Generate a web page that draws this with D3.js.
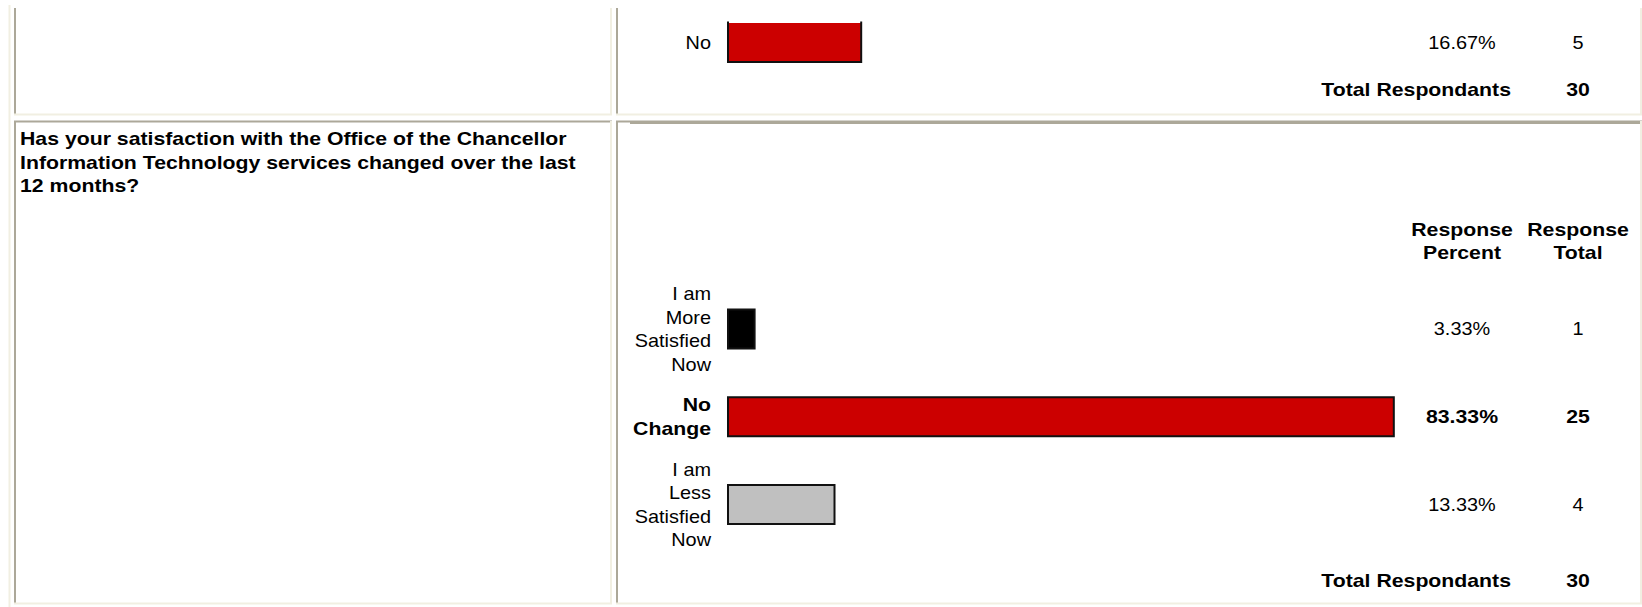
<!DOCTYPE html>
<html>
<head>
<meta charset="utf-8">
<script src="https://cdn.jsdelivr.net/npm/d3@7/dist/d3.min.js"></script>
<style>
  html, body { margin: 0; padding: 0; background: #ffffff; }
  svg { display: block; }
  text { font-family: "Liberation Sans", Arial, sans-serif; fill: #000; }
</style>
</head>
<body>
<svg id="chart" width="1642" height="607"></svg>
<script>
// ---- Data ----
const prevCategories = ["No"];
const prevPercents = [16.67];
const prevCounts = [5];
const prevTotal = 30;

const questionLines = [
  "Has your satisfaction with the Office of the Chancellor",
  "Information Technology services changed over the last",
  "12 months?"
];
const headerPercent = ["Response", "Percent"];
const headerTotal = ["Response", "Total"];

const categories = ["I am More Satisfied Now", "No Change", "I am Less Satisfied Now"];
const categoryLines = [["I am", "More", "Satisfied", "Now"], ["No", "Change"], ["I am", "Less", "Satisfied", "Now"]];
const percents = [3.33, 83.33, 13.33];
const counts = [1, 25, 4];
const total = 30;
const barColors = ["#000000", "#cc0000", "#c0c0c0"];
const prevBarColors = ["#cc0000"];
const totalLabel = "Total Respondants";

// ---- Layout ----
const svg = d3.select("#chart");
const W = 1642, H = 607;
const LIGHT = "#f1efe2", DARK = "#aca899";
const FS = 18, SX = 1.17 * 17 / 18, SXB = 1.25 * 17 / 18, LH = 23.5;

const x = d3.scaleLinear().domain([0, 100]).range([728, 1527]);
const y = d3.scalePoint().domain(categories).range([329, 504.5]);
const yPrev = d3.scalePoint().domain(prevCategories).range([42.5, 42.5]);
const BAR_H = 39;
const labelRight = 711, pctX = 1462, cntX = 1578;

// ---- Table borders ----
const borders = svg.append("g");
function line(x1, y1, x2, y2, c, w) {
  borders.append("line").attr("x1", x1).attr("y1", y1).attr("x2", x2).attr("y2", y2)
    .attr("stroke", c).attr("stroke-width", w);
}
line(9.5, 5, 9.5, H, LIGHT, 2);
line(15, 8, 15, 114, DARK, 2);
line(611, 8, 611, 114, LIGHT, 2);
line(14, 114.5, 612, 114.5, LIGHT, 2);
line(617, 8, 617, 114, DARK, 2);
line(1641, 8, 1641, 114, LIGHT, 2);
line(616, 114.5, 1642, 114.5, LIGHT, 2);
line(14, 121.5, 612, 121.5, DARK, 2);
line(15, 121, 15, 604, DARK, 2);
line(611, 121, 611, 604, LIGHT, 2);
line(14, 603.5, 612, 603.5, LIGHT, 2);
line(616, 121.5, 1642, 121.5, DARK, 2);
line(630, 123, 1642, 123, DARK, 2);
line(617, 121, 617, 604, DARK, 2);
line(1641, 121, 1641, 604, LIGHT, 2);
line(616, 603.5, 1642, 603.5, LIGHT, 2);

// ---- Text helper ----
function addText(g, tx, ty, lines, anchor, bold) {
  const t = g.append("text")
    .attr("transform", `translate(${tx},${ty}) scale(${bold ? SXB : SX},1)`)
    .attr("text-anchor", anchor)
    .attr("font-size", FS)
    .attr("font-weight", bold ? "bold" : "normal");
  const n = lines.length;
  lines.forEach((s, i) => {
    t.append("tspan").attr("x", 0)
      .attr("y", (i - (n - 1) / 2) * LH)
      .attr("dy", "0.36em")
      .text(s);
  });
  return t;
}

// ---- Row 1 (previous question, partial) ----
const g1 = svg.append("g");
g1.selectAll("rect.prev").data(prevCategories).join("rect")
  .attr("class", "prev")
  .attr("x", x(0)).attr("y", d => yPrev(d) - BAR_H / 2)
  .attr("width", (d, i) => x(prevPercents[i]) - x(0))
  .attr("height", BAR_H)
  .attr("fill", (d, i) => prevBarColors[i]);
prevCategories.forEach((d, i) => {
  const x0 = x(0), x1 = x(prevPercents[i]), y0 = yPrev(d) - BAR_H / 2 - 1.5, y1 = yPrev(d) + BAR_H / 2;
  g1.append("path").attr("d", `M${x0},${y0}V${y1}H${x1}V${y0}`)
    .attr("fill", "none").attr("stroke", "#111").attr("stroke-width", 2);
  addText(g1, labelRight, yPrev(d), [d], "end", false);
  addText(g1, pctX, yPrev(d), [prevPercents[i].toFixed(2) + "%"], "middle", false);
  addText(g1, cntX, yPrev(d), [String(prevCounts[i])], "middle", false);
});
addText(g1, 1511, 90, [totalLabel], "end", true);
addText(g1, cntX, 90, [String(prevTotal)], "middle", true);

// ---- Row 2 ----
const g2 = svg.append("g");
addText(g2, 20, 139 + LH, questionLines, "start", true);
addText(g2, pctX, 241, headerPercent, "middle", true);
addText(g2, cntX, 241, headerTotal, "middle", true);

const maxIdx = d3.maxIndex(percents);
g2.selectAll("rect.bar").data(categories).join("rect")
  .attr("class", "bar")
  .attr("x", x(0)).attr("y", d => y(d) - BAR_H / 2)
  .attr("width", (d, i) => x(percents[i]) - x(0))
  .attr("height", BAR_H)
  .attr("fill", (d, i) => barColors[i])
  .attr("stroke", "#111").attr("stroke-width", 2);

categories.forEach((d, i) => {
  const bold = i === maxIdx;
  addText(g2, labelRight, y(d), categoryLines[i], "end", bold);
  addText(g2, pctX, y(d), [percents[i].toFixed(2) + "%"], "middle", bold);
  addText(g2, cntX, y(d), [String(counts[i])], "middle", bold);
});
addText(g2, 1511, 581, [totalLabel], "end", true);
addText(g2, cntX, 581, [String(total)], "middle", true);
</script>
</body>
</html>
